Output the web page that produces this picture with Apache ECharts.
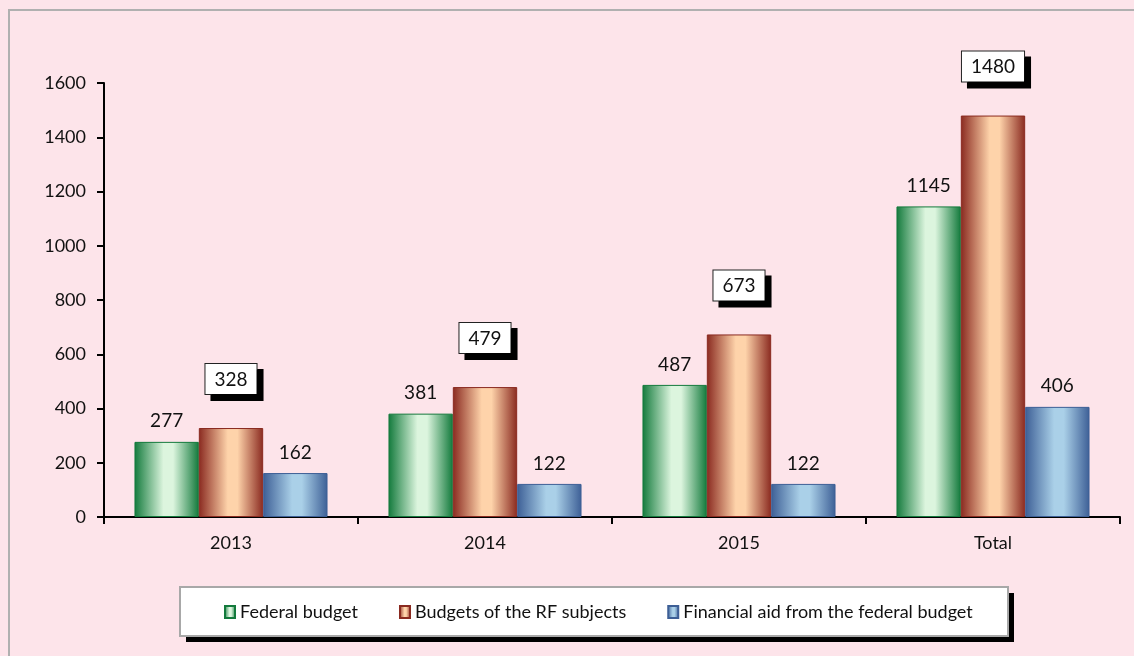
<!DOCTYPE html>
<html>
<head>
<meta charset="utf-8">
<script src="https://cdn.jsdelivr.net/npm/echarts@6/dist/echarts.min.js"></script>
<style>
  html, body { margin: 0; padding: 0; background: #fde4ea; }
  #main { width: 1134px; height: 656px; }
</style>
</head>
<body>
<div id="main"></div>
<script>
  var categories = ['2013', '2014', '2015', 'Total'];
  var federal = [277, 381, 487, 1145];
  var subjects = [328, 479, 673, 1480];
  var aid = [162, 122, 122, 406];
  var yTicks = [0, 200, 400, 600, 800, 1000, 1200, 1400, 1600];

  var font = 'Lato, "Open Sans", sans-serif';

  function grad(edge, mid) {
    return new echarts.graphic.LinearGradient(0, 0, 1, 0, [
      {offset: 0, color: edge},
      {offset: 0.45, color: mid},
      {offset: 0.6, color: mid},
      {offset: 1, color: edge}
    ]);
  }

  var chart = echarts.init(document.getElementById('main'));
  var option = {
    backgroundColor: '#fde4ea',
    animation: false,
    textStyle: {fontFamily: font},
    graphic: [
      {
        type: 'rect', shape: {x: 9, y: 10, width: 1140, height: 680},
        style: {fill: 'none', stroke: '#b0b0b0', lineWidth: 2}, z: -1
      },
      // legend frame: black drop shadow then white box
      {
        type: 'rect', shape: {x: 186, y: 593, width: 828, height: 49},
        style: {fill: '#000'}, z: 0
      },
      {
        type: 'rect', shape: {x: 180, y: 587, width: 828, height: 49},
        style: {fill: '#ffffff', stroke: '#a8a8a8', lineWidth: 2}, z: 1
      }
    ],
    legend: {
      bottom: 30,
      left: 219,
      itemWidth: 10,
      itemHeight: 12,
      itemGap: 41,
      icon: 'rect',
      textStyle: {fontSize: 18, color: '#111', fontFamily: font, padding: [0, 0, 0, 0]},
      data: ['Federal budget', 'Budgets of the RF subjects', 'Financial aid from the federal budget'],
      z: 5
    },
    grid: {left: 104, right: 14, top: 83, bottom: 139},
    xAxis: {
      type: 'category',
      data: categories,
      axisLine: {lineStyle: {color: '#000', width: 2}},
      axisTick: {show: true, length: 7, lineStyle: {color: '#000', width: 2}},
      axisLabel: {fontSize: 18, color: '#111', margin: 17}
    },
    yAxis: {
      type: 'value',
      min: 0, max: 1600, interval: 200,
      axisLine: {show: true, lineStyle: {color: '#000', width: 2}},
      axisTick: {show: true, length: 7, lineStyle: {color: '#000', width: 2}},
      splitLine: {show: false},
      axisLabel: {fontSize: 18, color: '#111', margin: 18,
        formatter: function (v) { return yTicks.indexOf(v) >= 0 ? String(v) : ''; }}
    },
    series: [
      {
        name: 'Federal budget', type: 'bar', data: federal,
        barGap: '0%', barCategoryGap: '24%',
        itemStyle: {color: grad('#137a3c', '#dcf5de'), borderColor: '#137a3c', borderWidth: 1},
        label: {show: true, position: 'top', distance: 11, fontSize: 19, color: '#111'}
      },
      {
        name: 'Budgets of the RF subjects', type: 'bar', data: subjects,
        itemStyle: {color: grad('#8a2a20', '#fed3aa'), borderColor: '#8a2a20', borderWidth: 1},
        label: {
          show: true, position: 'top', distance: 34, fontSize: 19, color: '#111',
          backgroundColor: '#fff', borderColor: '#222', borderWidth: 1,
          padding: [6, 9, 5, 9],
          shadowColor: '#000', shadowOffsetX: 6, shadowOffsetY: 6, shadowBlur: 0
        }
      },
      {
        name: 'Financial aid from the federal budget', type: 'bar', data: aid,
        itemStyle: {color: grad('#3d5f96', '#aad0e8'), borderColor: '#3d5f96', borderWidth: 1},
        label: {show: true, position: 'top', distance: 11, fontSize: 19, color: '#111'}
      }
    ]
  };
  chart.setOption(option);
</script>
</body>
</html>
